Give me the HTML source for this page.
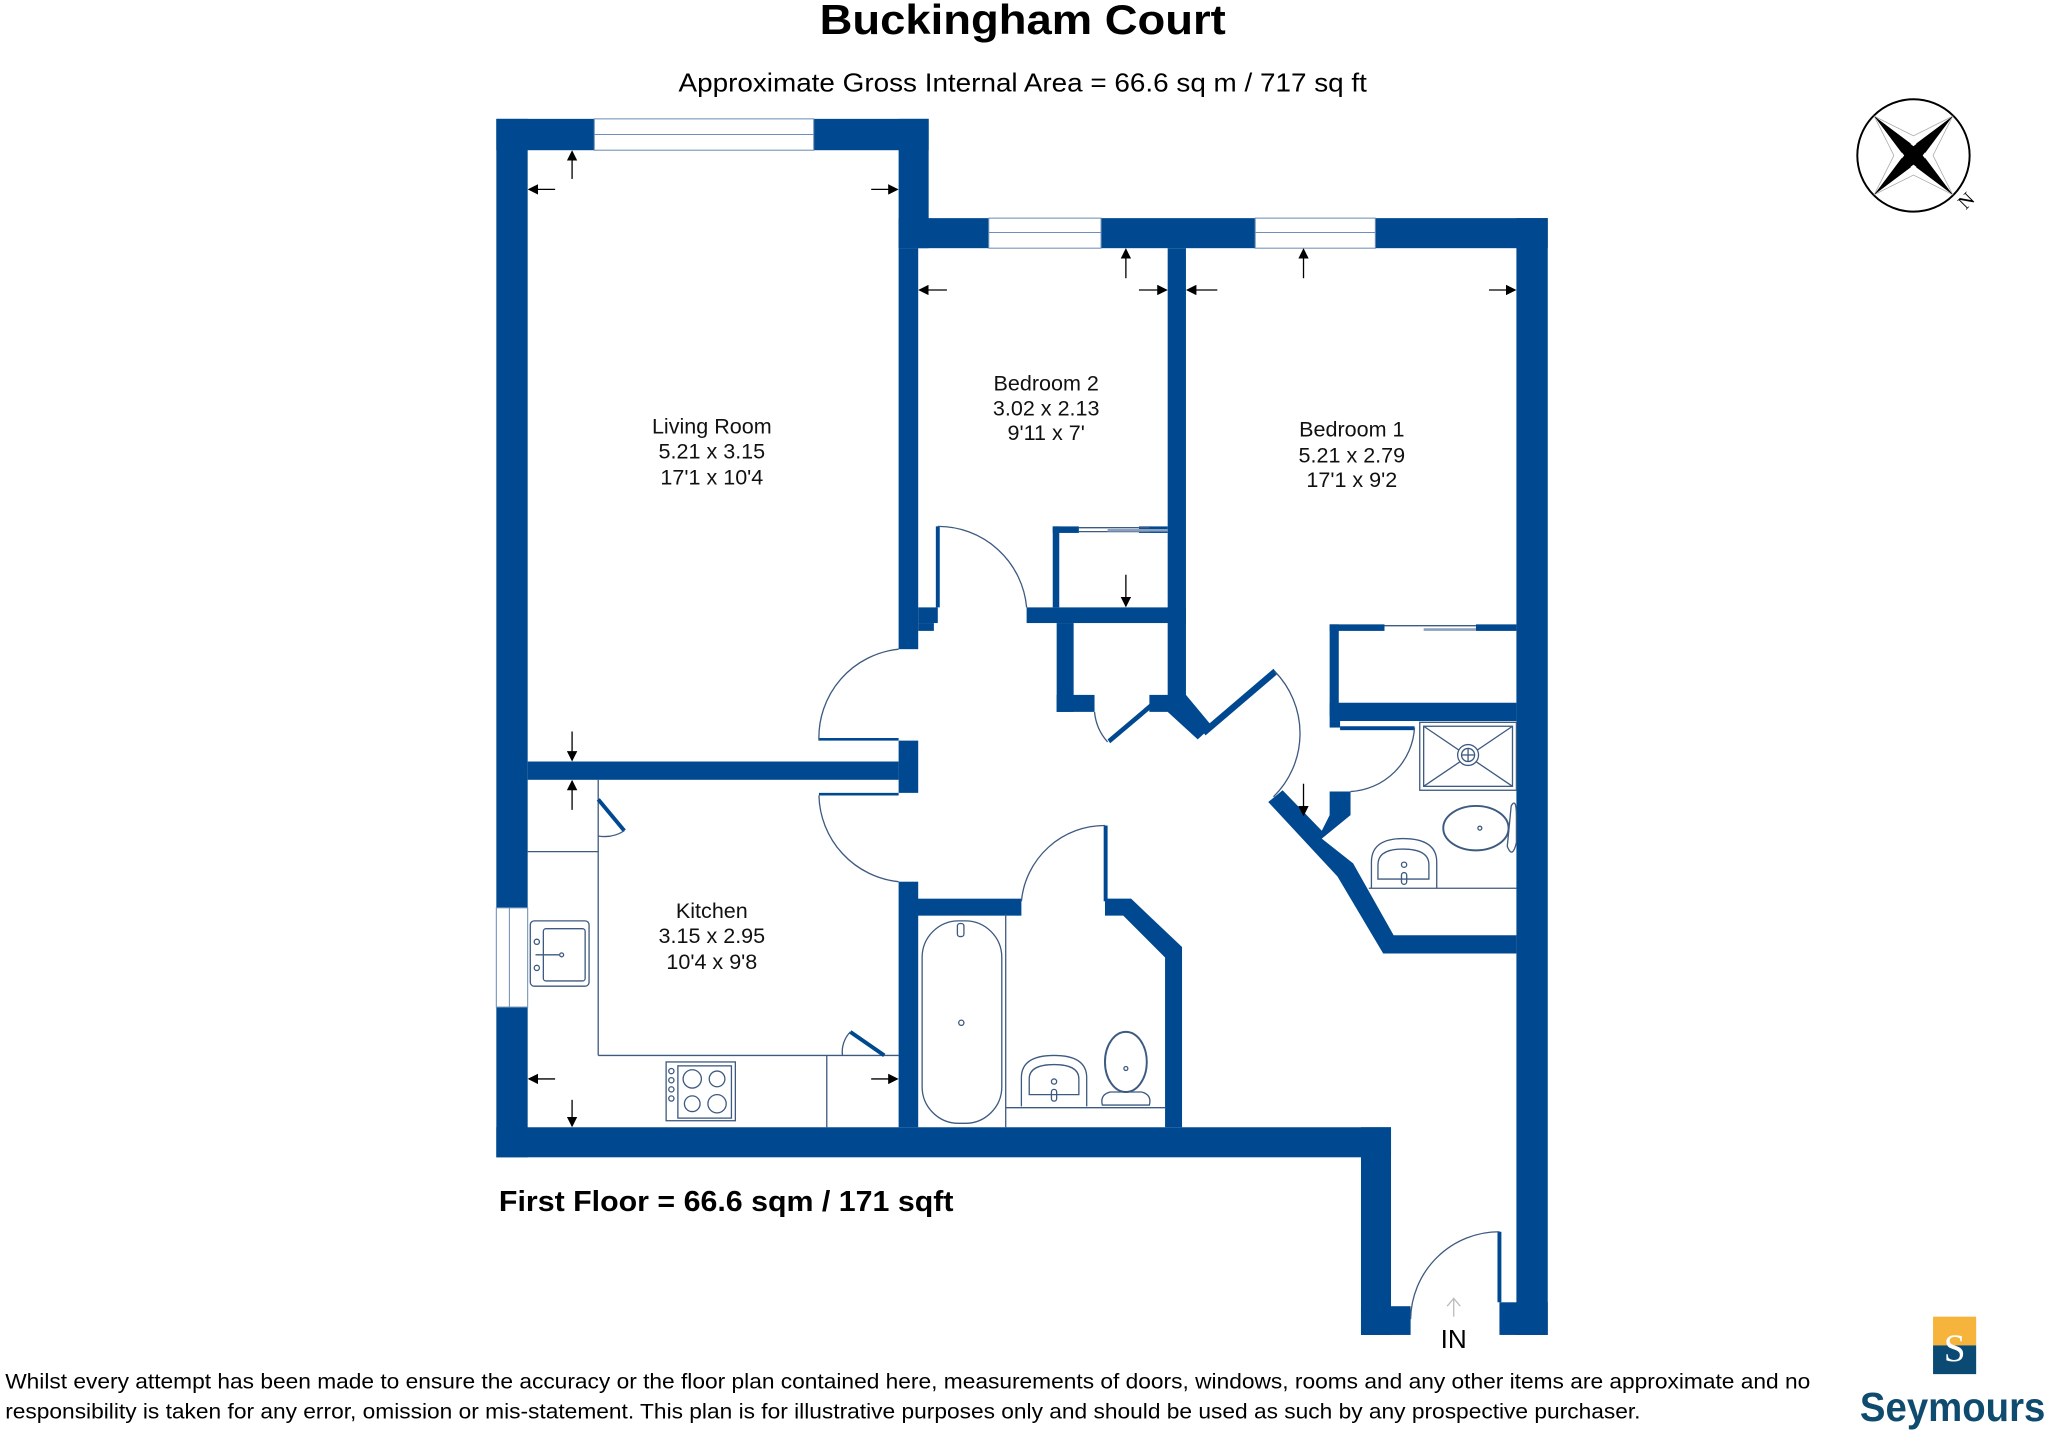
<!DOCTYPE html>
<html><head><meta charset="utf-8"><style>
html,body{margin:0;padding:0;background:#fff;width:2048px;height:1435px;overflow:hidden}
svg{display:block}
text{font-family:"Liberation Sans",Arial,sans-serif}
</style></head><body>
<svg width="2048" height="1435" viewBox="0 0 1568 1098.6" preserveAspectRatio="none" xmlns="http://www.w3.org/2000/svg">
<defs>
<marker id="ah" markerWidth="8" markerHeight="8" refX="7" refY="4" orient="auto" markerUnits="userSpaceOnUse"><path d="M0,0 L8,4 L0,8 Z" fill="#000"/></marker>
</defs>
<rect width="1568" height="1098.6" fill="#fff"/>
<text x="783" y="26" font-size="32" font-weight="bold" text-anchor="middle" textLength="311" lengthAdjust="spacingAndGlyphs">Buckingham Court</text>
<text x="783" y="70" font-size="20" text-anchor="middle" textLength="527" lengthAdjust="spacingAndGlyphs">Approximate Gross Internal Area = 66.6 sq m / 717 sq ft</text>

<g fill="#004990">
<rect x="380" y="91" width="331" height="24"/>
<rect x="380" y="91" width="24" height="795"/>
<rect x="688" y="91" width="23" height="99"/>
<rect x="688" y="167" width="497" height="23"/>
<rect x="1161" y="167" width="24" height="855"/>
<rect x="380" y="863" width="685" height="23"/>
<rect x="1042" y="863" width="23" height="159"/>
<rect x="1042" y="1000" width="38" height="22"/>
<rect x="1148" y="997" width="37" height="25"/>
<rect x="688" y="190" width="15" height="307"/>
<rect x="703" y="465" width="15" height="12"/>
<rect x="703" y="477" width="12" height="6"/>
<rect x="786" y="465" width="122" height="12"/>
<rect x="894" y="190" width="14" height="355"/>
<rect x="806" y="403" width="5" height="62"/>
<rect x="806" y="403" width="20" height="5"/>
<rect x="872" y="403" width="22" height="5"/>
<rect x="809" y="477" width="13" height="68"/>
<rect x="809" y="532" width="29" height="13"/>
<rect x="880" y="532" width="28" height="13"/>
<polygon points="894,545 908,532 928,556 917,566"/>
<polygon points="848,566 880,539 882,542 850,569"/>
<polygon points="920,559 975,512 978,516 923,563"/>
<rect x="404" y="583" width="284" height="14"/>
<rect x="688" y="567" width="15" height="40"/>
<rect x="627" y="565" width="61" height="2"/>
<rect x="627" y="607" width="61" height="2"/>
<rect x="688" y="675" width="15" height="188"/>
<rect x="697" y="688" width="85" height="13"/>
<rect x="845" y="632" width="3" height="58"/>
<polygon points="846,688 866,688 905,725 905,863 892,863 892,733 860,701 846,701"/>
<rect x="1018" y="478" width="7" height="70"/>
<rect x="1018" y="478" width="42" height="5"/>
<rect x="1130" y="478" width="31" height="5"/>
<rect x="1018" y="538" width="143" height="14"/>
<rect x="1018" y="552" width="8" height="5"/>
<rect x="1026" y="556" width="57" height="3"/>
<polygon points="971,614 982,605 1012,636 1018,624 1018,606 1034,606 1034,624 1012,642 1036,661 1067,716 1161,716 1161,730 1059,730 1024,671"/>
</g>

<g fill="#fff" stroke="#6f8fb8" stroke-width="0.8">
<rect x="455" y="91" width="168" height="24"/>
<line x1="455" y1="103" x2="623" y2="103"/>
<rect x="757" y="167" width="86" height="23"/>
<line x1="757" y1="178" x2="843" y2="178"/>
<rect x="961" y="167" width="92" height="23"/>
<line x1="961" y1="178" x2="1053" y2="178"/>
<rect x="380" y="695" width="24" height="76"/>
<line x1="390" y1="695" x2="390" y2="771"/>
</g>

<g fill="none" stroke="#3d5a80" stroke-width="1">
<line x1="826" y1="404" x2="880" y2="404"/><line x1="826" y1="407" x2="880" y2="407"/>
<line x1="848" y1="406" x2="894" y2="406" stroke-width="2" stroke="#8aa0bf"/>
<line x1="1060" y1="479" x2="1130" y2="479"/><line x1="1090" y1="482" x2="1130" y2="482" stroke="#8aa0bf" stroke-width="2"/>
<line x1="718" y1="403" x2="718" y2="465" stroke="#004990" stroke-width="3"/>
<path d="M718,403 A68,68 0 0 1 786,465"/>
<path d="M688,497 A68,68 0 0 0 627,567"/>
<path d="M627,609 A68,68 0 0 0 688,675"/>
<path d="M838,545 A40,40 0 0 0 848,568"/>
<path d="M976,514 A68,68 0 0 1 975,610"/>
<path d="M1083,557 A52,52 0 0 1 1034,606"/>
<path d="M846,632 A64,64 0 0 0 782,690"/>
<line x1="1148" y1="943" x2="1148" y2="997" stroke="#004990" stroke-width="3"/>
<path d="M1148,943 A68,68 0 0 0 1080,1010"/>
<line x1="458" y1="597" x2="458" y2="808"/>
<line x1="458" y1="808" x2="688" y2="808"/>
<line x1="404" y1="652" x2="458" y2="652"/>
<line x1="633" y1="808" x2="633" y2="863"/>
<line x1="458" y1="612" x2="478" y2="636" stroke="#004990" stroke-width="3"/>
<path d="M478,636 A28,28 0 0 1 458,640"/>
<line x1="651" y1="790" x2="677" y2="808" stroke="#004990" stroke-width="3"/>
<path d="M645,808 A22,22 0 0 1 651,790"/>
<rect x="406" y="705" width="45" height="50" rx="3"/>
<rect x="416" y="711" width="32" height="40" rx="2"/>
<line x1="410" y1="731" x2="428" y2="731"/><circle cx="430" cy="731" r="1.5"/>
<circle cx="411" cy="721" r="2"/><circle cx="411" cy="741" r="2"/>
<rect x="510" y="813" width="53" height="45"/>
<rect x="519" y="816" width="41" height="40"/>
<circle cx="530" cy="826" r="7"/><circle cx="549" cy="826" r="6"/>
<circle cx="530" cy="845" r="6"/><circle cx="549" cy="845" r="7"/>
<circle cx="514" cy="820" r="2"/><circle cx="514" cy="827" r="2"/><circle cx="514" cy="834" r="2"/><circle cx="514" cy="841" r="2"/>
<rect x="706" y="705" width="61" height="155" rx="28"/>
<circle cx="736" cy="783" r="2"/>
<rect x="733" y="707" width="5" height="10" rx="2"/>
<line x1="770" y1="700" x2="770" y2="863"/>
<line x1="770" y1="848" x2="892" y2="848"/>
<path d="M782,847 L782,825 Q782,808 807,808 Q832,808 832,825 L832,847"/>
<path d="M788,838 L788,826 Q788,815 807,815 Q826,815 826,826 L826,838 Z"/>
<circle cx="807" cy="828" r="2"/><rect x="805" y="834" width="4" height="9" rx="2"/>
<ellipse cx="862" cy="813" rx="16" ry="23" stroke-width="1.5"/>
<circle cx="862" cy="818" r="1.5"/>
<path d="M844,846 Q842,838 850,836 L874,836 Q882,838 880,846 Z"/>
<rect x="1087" y="553" width="74" height="52"/>
<rect x="1090" y="556" width="68" height="46"/>
<line x1="1090" y1="556" x2="1158" y2="602"/><line x1="1158" y1="556" x2="1090" y2="602"/>
<circle cx="1124" cy="578" r="8" fill="#fff"/><circle cx="1124" cy="578" r="5"/>
<line x1="1119" y1="578" x2="1129" y2="578"/><line x1="1124" y1="573" x2="1124" y2="583"/>
<ellipse cx="1130" cy="634" rx="25" ry="17" stroke-width="1.5"/>
<circle cx="1133" cy="634" r="1.5"/>
<path d="M1157,617 Q1161,610 1161,625 L1161,645 Q1158,658 1154,648 Z"/>
<line x1="1048" y1="680" x2="1161" y2="680"/>
<path d="M1050,680 L1050,660 Q1050,642 1074,642 Q1100,642 1100,660 L1100,680"/>
<path d="M1055,673 L1055,662 Q1055,650 1074,650 Q1094,650 1094,662 L1094,673 Z"/>
<circle cx="1075" cy="662" r="2"/><rect x="1073" y="668" width="4" height="9" rx="2"/>
</g>

<g stroke="#000" stroke-width="1" marker-end="url(#ah)">
<line x1="438" y1="137" x2="438" y2="116"/>
<line x1="425" y1="145" x2="405" y2="145"/>
<line x1="667" y1="145" x2="687" y2="145"/>
<line x1="438" y1="560" x2="438" y2="582"/>
<line x1="438" y1="620" x2="438" y2="598"/>
<line x1="425" y1="826" x2="405" y2="826"/>
<line x1="667" y1="826" x2="687" y2="826"/>
<line x1="438" y1="842" x2="438" y2="862"/>
<line x1="862" y1="213" x2="862" y2="191"/>
<line x1="725" y1="222" x2="704" y2="222"/>
<line x1="872" y1="222" x2="893" y2="222"/>
<line x1="998" y1="213" x2="998" y2="191"/>
<line x1="932" y1="222" x2="909" y2="222"/>
<line x1="1140" y1="222" x2="1160" y2="222"/>
<line x1="862" y1="440" x2="862" y2="464"/>
<line x1="998" y1="600" x2="998" y2="624"/>
</g>
<path d="M1113,1008 L1113,995 M1108,1000 L1113,994 L1118,1000" stroke="#bbb" fill="none"/>

<g font-size="16.5" text-anchor="middle" fill="#111">
<text x="545" y="332">Living Room</text><text x="545" y="351">5.21 x 3.15</text><text x="545" y="371">17'1 x 10'4</text>
<text x="801" y="299">Bedroom 2</text><text x="801" y="318">3.02 x 2.13</text><text x="801" y="337">9'11 x 7'</text>
<text x="1035" y="334">Bedroom 1</text><text x="1035" y="354">5.21 x 2.79</text><text x="1035" y="373">17'1 x 9'2</text>
<text x="545" y="703">Kitchen</text><text x="545" y="722">3.15 x 2.95</text><text x="545" y="742">10'4 x 9'8</text>
</g>
<text x="1113" y="1032" font-size="20" text-anchor="middle">IN</text>
<text x="382" y="927" font-size="22" font-weight="bold" textLength="348" lengthAdjust="spacingAndGlyphs">First Floor = 66.6 sqm / 171 sqft</text>
<text x="4" y="1063" font-size="16" textLength="1382" lengthAdjust="spacingAndGlyphs">Whilst every attempt has been made to ensure the accuracy or the floor plan contained here, measurements of doors, windows, rooms and any other items are approximate and no</text>
<text x="4" y="1086" font-size="16" textLength="1252" lengthAdjust="spacingAndGlyphs">responsibility is taken for any error, omission or mis-statement. This plan is for illustrative purposes only and should be used as such by any prospective purchaser.</text>

<g transform="translate(1465,119)">
<circle r="43" fill="none" stroke="#000" stroke-width="1.5"/>
<polygon points="-30,-30 0,-15 30,-30 15,0 30,30 0,15 -30,30 -15,0" fill="none" stroke="#aaa" stroke-width="0.6"/>
<polygon points="-30,-30 4,-4 -4,4" fill="#000"/>
<polygon points="30,-30 4,4 -4,-4" fill="#000"/>
<polygon points="30,30 -4,4 4,-4" fill="#000"/>
<polygon points="-30,30 -4,-4 4,4" fill="#000"/>
<polygon points="-30,-30 -9,-2 -2,-9" fill="#000"/>
<polygon points="30,-30 2,-9 9,-2" fill="#000"/>
<polygon points="30,30 9,2 2,9" fill="#000"/>
<polygon points="-30,30 -2,9 -9,2" fill="#000"/>
<text x="40" y="42" font-size="15" transform="rotate(-45 40 42)" style="font-family:'Liberation Serif',serif">N</text>
</g>

<rect x="1480" y="1008" width="33" height="22" fill="#f6b43c"/>
<rect x="1480" y="1030" width="33" height="22" fill="#0b4a73"/>
<text x="1496.5" y="1042" font-size="30" text-anchor="middle" fill="#fff" style="font-family:'Liberation Serif',serif">S</text>
<text x="1495" y="1088" font-size="31" font-weight="bold" text-anchor="middle" fill="#0e4b6e" textLength="142" lengthAdjust="spacingAndGlyphs">Seymours</text>
</svg>
</body></html>
